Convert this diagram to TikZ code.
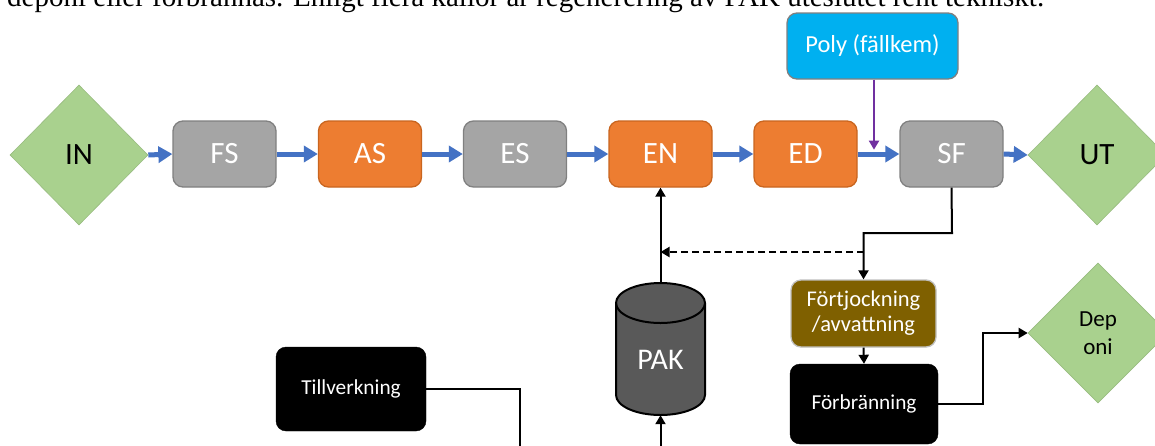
\documentclass[tikz,border=0pt]{standalone}
\usepackage{fontspec}
\setmainfont{Carlito}
\newfontfamily\serifont{Liberation Serif}
\usetikzlibrary{shapes.geometric,arrows.meta,calc}
\definecolor{dgreen}{HTML}{A9D18E}
\definecolor{bgray}{HTML}{A5A5A5}
\definecolor{bgrayd}{HTML}{808080}
\definecolor{borange}{HTML}{ED7D31}
\definecolor{boranged}{HTML}{C9651F}
\definecolor{bblue}{HTML}{00B0F0}
\definecolor{flowblue}{HTML}{4472C4}
\definecolor{polyline}{HTML}{7030A0}
\definecolor{brown}{HTML}{7F6000}
\definecolor{pakgray}{HTML}{595959}
\tikzset{
  procbox/.style={rectangle, rounded corners=10pt, line width=1.3pt, minimum width=103pt, minimum height=66pt, inner sep=0pt, text=white, font=\fontsize{31}{33}\selectfont},
  graybox/.style={procbox, fill=bgray, draw=bgrayd},
  orangebox/.style={procbox, fill=borange, draw=boranged},
  endpoint/.style={diamond, fill=dgreen, draw=dgreen!90!black, line width=0.6pt, inner sep=0pt, minimum width=138pt, minimum height=140pt, font=\fontsize{31}{33}\selectfont, text=black},
  blackbox/.style={rectangle, rounded corners=10pt, fill=black, draw=black, text=white, inner sep=0pt, font=\fontsize{21.3}{24}\selectfont},
  bluearrow/.style={draw=flowblue, line width=5pt, -{Triangle[length=14pt,width=16pt]}},
  blackarrow/.style={draw=black, line width=2pt, -{Triangle[length=9pt,width=10pt]}},
}
\begin{document}
\begin{tikzpicture}[x=1pt,y=-1pt]
\useasboundingbox (0,0) rectangle (1155,445);
\clip (0,0) rectangle (1155,445);
\fill[white] (0,0) rectangle (1155,445);
% cut-off text line at top
\node[anchor=base west, inner sep=0pt, font=\serifont\fontsize{29}{32}\selectfont] (toptext) at (7,6.5) {deponi eller förbrännas. Enligt flera källor är regenerering av PAK uteslutet rent tekniskt.};
% main flow
\node[endpoint] (in) at (79,155) {IN};
\node[graybox] (fs) at (224.5,154) {FS};
\node[orangebox] (as) at (370,154) {AS};
\node[graybox] (es) at (515,154) {ES};
\node[orangebox] (en) at (660.5,154) {EN};
\node[orangebox] (ed) at (805.5,154) {ED};
\node[graybox] (sf) at (951.5,154) {SF};
\node[endpoint] (ut) at (1097,155) {UT};
\node[procbox, fill=bblue, draw=bgrayd, minimum width=171pt, font=\fontsize{24.5}{26}\selectfont] (poly) at (872.5,46) {Poly (fällkem)};
% sludge line
\node[rectangle, rounded corners=10pt, fill=brown, draw=bgray!70, line width=1.3pt, minimum width=145pt, minimum height=67pt, inner sep=0pt, text=white, align=center, font=\fontsize{22.5}{25}\selectfont] (fj) at (863.5,313.5) {Förtjockning\\/avvattning};
\node[blackbox, minimum width=148pt, minimum height=80pt] (fb) at (864,404) {Förbränning};
\node[endpoint, minimum width=140pt, align=center, font=\fontsize{23}{28}\selectfont] (dep) at (1098,333) {Dep\\oni};
\node[blackbox, minimum width=150pt, minimum height=84pt] (till) at (351,389) {Tillverkning};
% PAK cylinder
\draw[fill=pakgray, line width=2pt] (616,303) -- (616,395) arc[start angle=180, end angle=0, x radius=44.5, y radius=20] -- (705,303) arc[start angle=0, end angle=-180, x radius=44.5, y radius=20] -- cycle;
\draw[line width=2pt] (616,303) arc[start angle=180, end angle=0, x radius=44.5, y radius=20];
\node[rectangle, minimum width=89pt, minimum height=132pt, inner sep=0pt] (pak) at (660.5,349) {};
\node[text=white, font=\fontsize{30}{32}\selectfont] (paklabel) at (660.5,360) {PAK};
% blue flow arrows
\draw[bluearrow] (in.east) -- (fs.west);
\draw[bluearrow] (fs.east) -- (as.west);
\draw[bluearrow] (as.east) -- (es.west);
\draw[bluearrow] (es.east) -- (en.west);
\draw[bluearrow] (en.east) -- (ed.west);
\draw[bluearrow] (ed.east) -- (sf.west);
\draw[bluearrow] (sf.east) -- (ut.west);
% polymer dosing
\coordinate (polyend) at ($(poly.south)+(1.5,70)$);
\draw[draw=polyline, line width=2pt, -{Triangle[length=9pt,width=10pt]}] ($(poly.south)+(1.5,0)$) -- (polyend);
% sludge connections
\coordinate (bend) at (952,233);
\coordinate (split) at (864,252);
\draw[blackarrow] (sf.south) -- (bend) -| (fj.north);
\draw[blackarrow, dashed, dash pattern=on 7pt off 4pt] (split) -- (pak.north |- split);
\draw[blackarrow] (pak.north) -- (en.south);
\draw[blackarrow] (fj.south) -- (fb.north);
\coordinate (depbend) at (983,404);
\draw[blackarrow] (fb.east) -- (depbend) |- (dep.west);
\coordinate (below) at (520,470);
\draw[blackarrow] (till.east) -| (below) -| (pak.south);
\end{tikzpicture}
\end{document}
